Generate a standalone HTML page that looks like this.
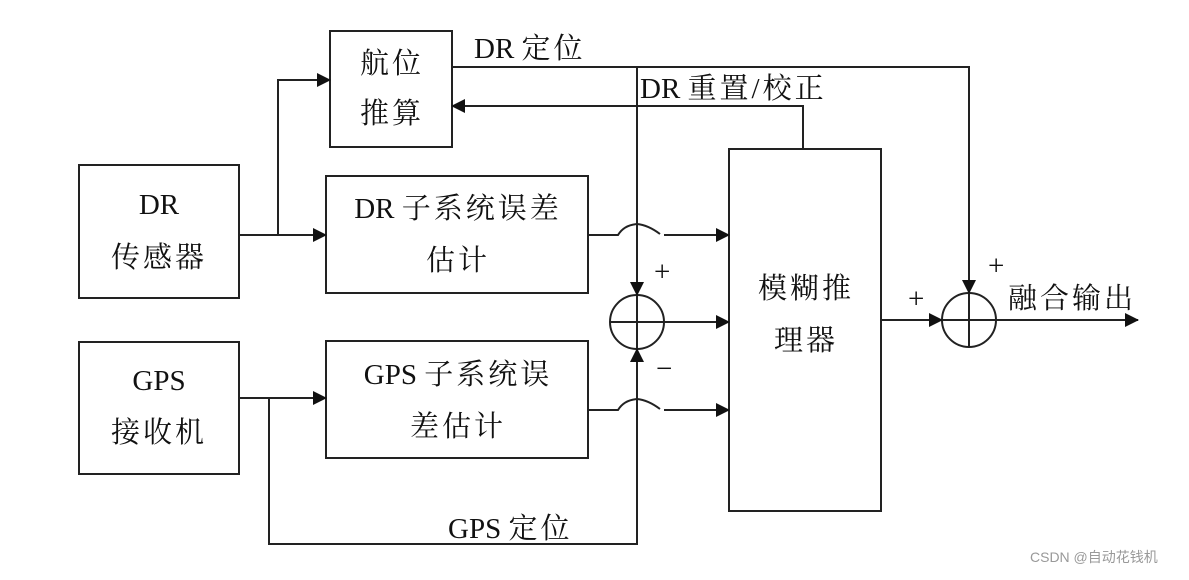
<!DOCTYPE html>
<html><head><meta charset="utf-8"><style>
html,body{margin:0;padding:0;background:#fff;}
svg text{font-family:"Liberation Serif","Noto Serif CJK SC",serif;font-size:29px;letter-spacing:3px;fill:#111;}
tspan.l{letter-spacing:0;}
</style></head><body>
<svg width="1189" height="575" viewBox="0 0 1189 575" xmlns="http://www.w3.org/2000/svg">
<defs><marker id="a" markerWidth="14" markerHeight="14" refX="13" refY="7" orient="auto" markerUnits="userSpaceOnUse"><path d="M0,0 L14,7 L0,14 Z" fill="#111"/></marker></defs>
<g fill="none" stroke="#222" stroke-width="2">
<rect x="330" y="31" width="122" height="116"/>
<rect x="79" y="165" width="160" height="133"/>
<rect x="326" y="176" width="262" height="117"/>
<rect x="79" y="342" width="160" height="132"/>
<rect x="326" y="341" width="262" height="117"/>
<rect x="729" y="149" width="152" height="362"/>
<circle cx="637" cy="322" r="27"/>
<line x1="610" y1="322" x2="664" y2="322"/>
<line x1="637" y1="295" x2="637" y2="349"/>
<circle cx="969" cy="320" r="27"/>
<line x1="942" y1="320" x2="996" y2="320"/>
<line x1="969" y1="293" x2="969" y2="347"/>
<polyline points="239,235 326,235" marker-end="url(#a)"/>
<polyline points="278,235 278,80 330,80" marker-end="url(#a)"/>
<polyline points="452,67 969,67 969,293" marker-end="url(#a)"/>
<polyline points="637,67 637,295" marker-end="url(#a)"/>
<polyline points="803,149 803,106 452,106" marker-end="url(#a)"/>
<path d="M588,235 H618 Q624,225 637,224 Q648,225 660,234"/>
<polyline points="664,235 729,235" marker-end="url(#a)"/>
<polyline points="664,322 729,322" marker-end="url(#a)"/>
<polyline points="239,398 326,398" marker-end="url(#a)"/>
<polyline points="269,398 269,544 637,544 637,349" marker-end="url(#a)"/>
<path d="M588,410 H618 Q624,400 637,399 Q648,400 660,409"/>
<polyline points="664,410 729,410" marker-end="url(#a)"/>
<polyline points="881,320 942,320" marker-end="url(#a)"/>
<polyline points="996,320 1138,320" marker-end="url(#a)"/>
</g>
<g text-anchor="middle">
<text x="392" y="73">航位</text>
<text x="392" y="123">推算</text>
<text x="159" y="214"><tspan class="l">DR</tspan></text>
<text x="159" y="267">传感器</text>
<text x="458" y="218"><tspan class="l">DR </tspan>子系统误差</text>
<text x="458" y="270">估计</text>
<text x="159" y="390"><tspan class="l">GPS</tspan></text>
<text x="159" y="442">接收机</text>
<text x="458" y="384"><tspan class="l">GPS </tspan>子系统误</text>
<text x="458" y="436">差估计</text>
<text x="806" y="298">模糊推</text>
<text x="806" y="350">理器</text>
</g>
<text x="474" y="58"><tspan class="l">DR </tspan>定位</text>
<text x="640" y="98"><tspan class="l">DR </tspan>重置/校正</text>
<text x="448" y="538"><tspan class="l">GPS </tspan>定位</text>
<text x="654" y="281" font-size="26">+</text>
<text x="656" y="378" font-size="26">−</text>
<text x="908" y="308" font-size="26">+</text>
<text x="988" y="275" font-size="26">+</text>
<text x="1008" y="308">融合输出</text>
<text x="1030" y="562" style="font-family:'Liberation Sans','Noto Sans CJK SC',sans-serif;font-size:14px;letter-spacing:0;fill:#999">CSDN @自动花钱机</text>
</svg>
</body></html>
